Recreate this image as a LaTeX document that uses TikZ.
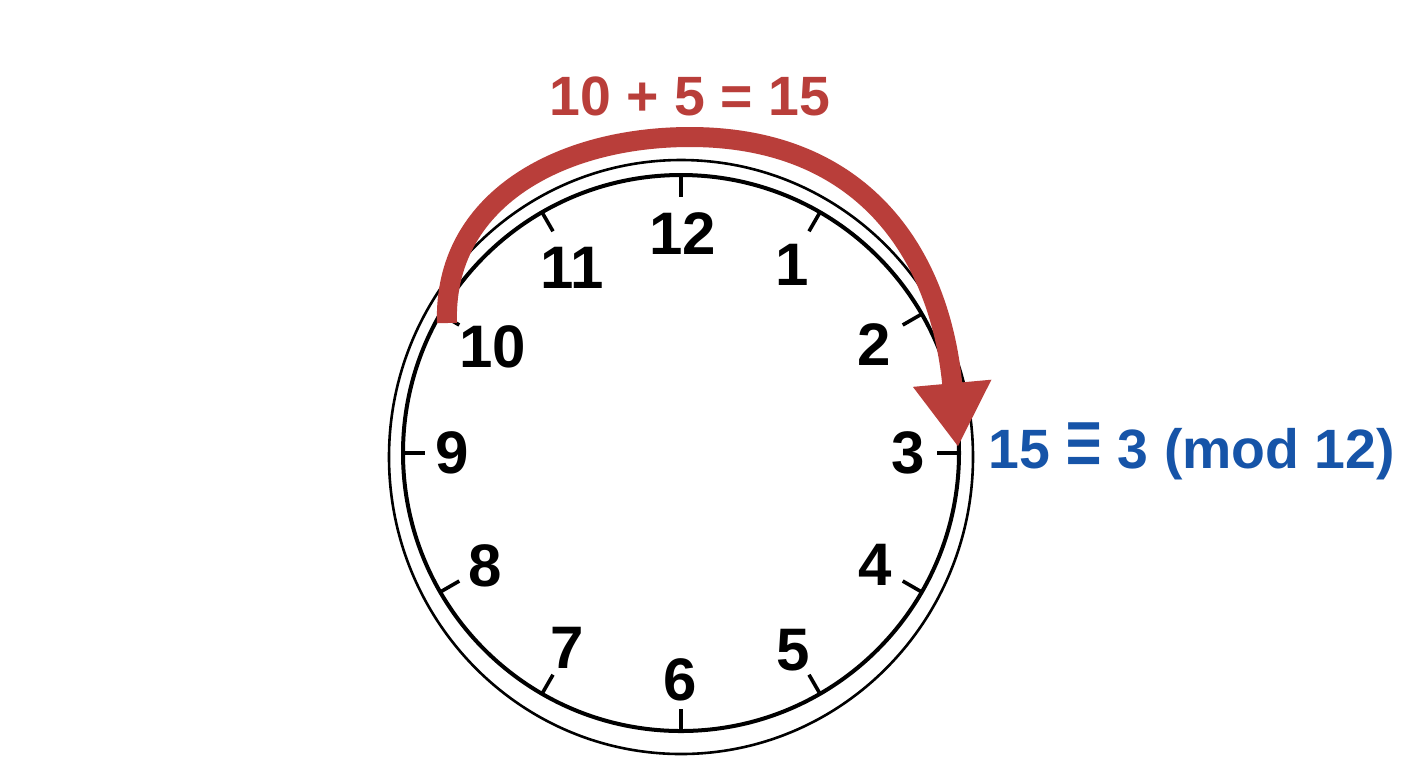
\documentclass[tikz,border=0pt]{standalone}
\usepackage{fontspec}
\usepackage{graphicx}
\setmainfont{Liberation Sans}
\usetikzlibrary{arrows.meta,calc}
\definecolor{arrowred}{RGB}{185,62,58}
\definecolor{modblue}{RGB}{22,84,168}
\newcommand{\bigequiv}{\raisebox{-4pt}{\scalebox{1.15}[1.8]{\mdseries ≡}}}
\begin{document}
\begin{tikzpicture}[x=0.5pt,y=-0.5pt,
  num/.style={font=\fontsize{30}{30}\selectfont\bfseries, inner sep=0pt},
  lbl/.style={font=\fontsize{27.7}{28}\selectfont\bfseries, inner sep=0pt},
  tickmark/.style={line width=1.8pt},
  bigarrow/.style={draw=arrowred, line width=10pt, -{Triangle[width=37pt,length=32pt]}}]
\useasboundingbox (0,0) rectangle (1408,768);
\fill[white] (0,0) rectangle (1408,768);
\coordinate (c) at (681,453);
\draw[line width=1.3pt] (681,457) ellipse [x radius=292, y radius=297];
\draw[line width=2pt] (c) circle [radius=278];
\foreach \i in {0,...,11}
  \draw[tickmark] ($(c)+(-90+30*\i:279)$) -- ($(c)+(-90+30*\i:256)$);
\node[num] (n12) at (683,234) {12};
\node[num] (n1) at (792,265) {1};
\node[num] (n2) at (874,345) {2};
\node[num] (n3) at (908,453) {3};
\node[num] (n4) at (875,565) {4};
\node[num] (n5) at (793,650) {5};
\node[num] (n6) at (680,680) {6};
\node[num] (n7) at (567,648) {7};
\node[num] (n8) at (485,566) {8};
\node[num] (n9) at (452,453) {9};
\node[num] (n10) at (493,347) {10};
\node[num] (n11) at (572,268) {11};
\coordinate (start) at (447,323);
\coordinate (apex) at (690,137);
\coordinate (tip) at (958,447);
\draw[bigarrow] (start) .. controls (443,200) and (560,137) .. (apex)
  .. controls (860,137) and (940,250) .. (tip);
\node[lbl, text=arrowred, anchor=base] (sum) at (690,115) {10 + 5 = 15};
\node[lbl, text=modblue, anchor=base west] (mod) at (988,468) {15 \bigequiv{} 3 (mod 12)};
\end{tikzpicture}
\end{document}
